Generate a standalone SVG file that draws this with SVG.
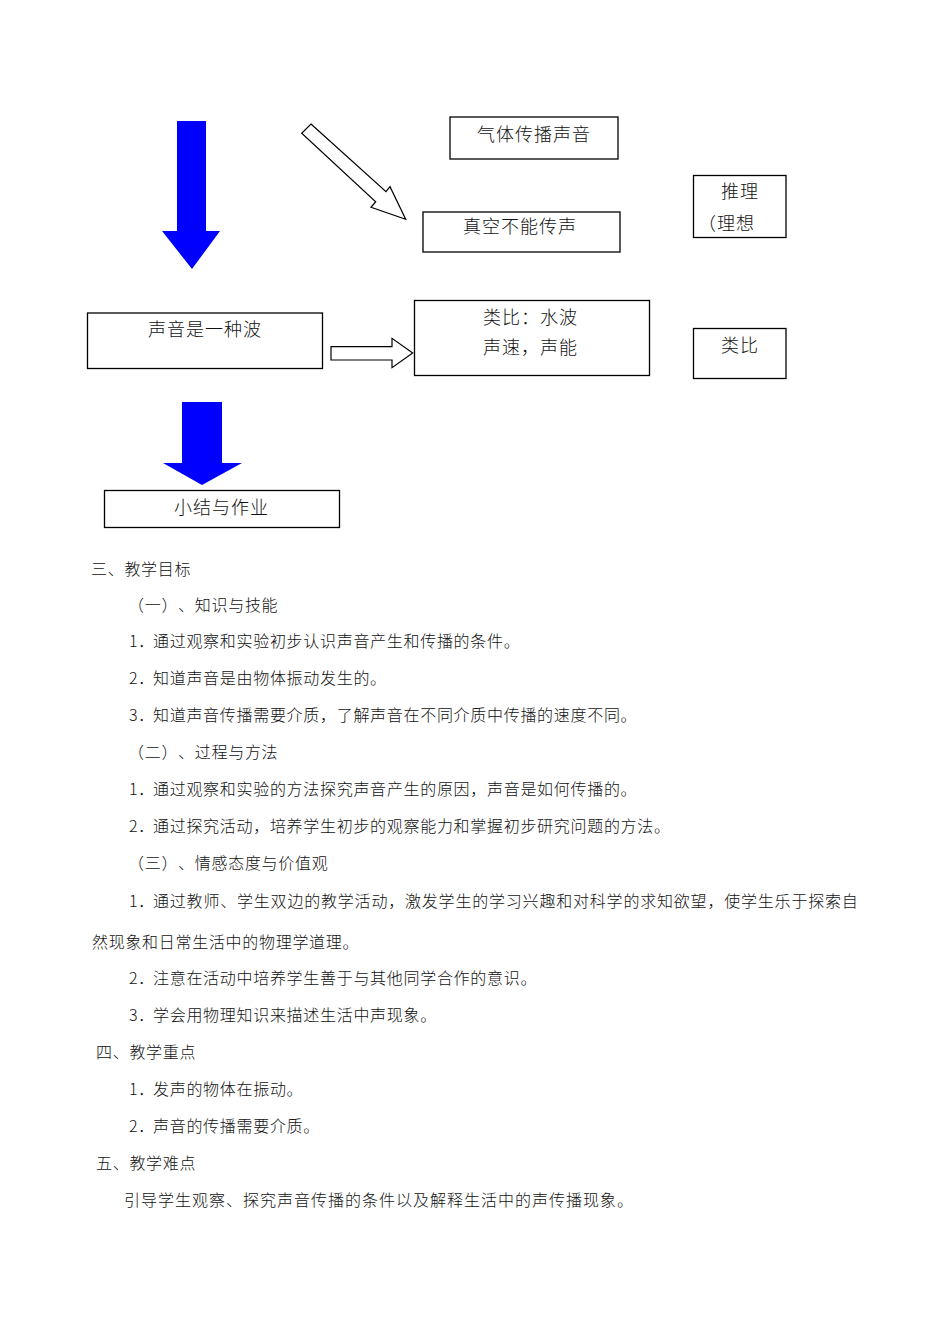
<svg xmlns="http://www.w3.org/2000/svg" width="950" height="1344" viewBox="0 0 950 1344">
<style>
.box{fill:#fff;stroke:#000;stroke-width:1.3}
.bt{font-family:"Noto Sans CJK SC","Noto Sans CJK JP",sans-serif;font-size:18px;letter-spacing:1px;fill:#111;text-spacing-trim:space-all;font-weight:300}
.tx{font-family:"Noto Sans CJK SC","Noto Sans CJK JP",sans-serif;font-size:16px;letter-spacing:0.7px;fill:#111;text-spacing-trim:space-all;font-weight:300}
.blue{fill:#0000ff;stroke:none}
.hollow{fill:#fff;stroke:#000;stroke-width:1.2;stroke-linejoin:miter}
</style>
<rect width="950" height="1344" fill="#fff"/>
<g id="connectors">
<polygon class="blue" points="177,121 206,121 206,231 220,231 192,269 162,231 177,231"/>
<polygon class="hollow" points="311,124 386,191.7 390,186.7 405.7,219.3 371,207.3 375.7,201.7 301.7,133.3"/>
<polygon class="hollow" points="331,346.7 392,346.7 392,338.3 412.7,353 392,367.7 392,360 331,360"/>
<polygon class="blue" points="182,402 222,402 222,463 242,463 202,485 163,463 182,463"/>
</g>
<g id="n-gas"><rect class="box" x="450" y="117" width="168" height="42"/><text class="bt" x="477" y="141">气体传播声音</text></g>
<g id="n-vacuum"><rect class="box" x="423" y="212" width="197" height="40"/><text class="bt" x="463" y="233">真空不能传声</text></g>
<g id="n-reason"><rect class="box" x="693.5" y="175.5" width="92.5" height="62"/><text class="bt" x="721" y="198">推理</text><text class="bt" x="698" y="230">（理想</text></g>
<g id="n-wave"><rect class="box" x="87.5" y="313" width="235" height="55.5"/><text class="bt" x="148" y="336">声音是一种波</text></g>
<g id="n-analogy-water"><rect class="box" x="414.5" y="300.5" width="235" height="75"/><text class="bt" x="483" y="324">类比：水波</text><text class="bt" x="483" y="354">声速，声能</text></g>
<g id="n-analogy"><rect class="box" x="693.5" y="328.5" width="92.5" height="50"/><text class="bt" x="721" y="352">类比</text></g>
<g id="n-summary"><rect class="box" x="104.5" y="490.5" width="235" height="37"/><text class="bt" x="174" y="514">小结与作业</text></g>
<g id="body">
<text class="tx" x="91" y="575">三、教学目标</text>
<text class="tx" x="128" y="611">（一）、知识与技能</text>
<text class="tx"><tspan x="129" y="647">1．</tspan><tspan x="153" y="647">通过观察和实验初步认识声音产生和传播的条件。</tspan></text>
<text class="tx"><tspan x="129" y="684">2．</tspan><tspan x="153" y="684">知道声音是由物体振动发生的。</tspan></text>
<text class="tx"><tspan x="129" y="721">3．</tspan><tspan x="153" y="721">知道声音传播需要介质，了解声音在不同介质中传播的速度不同。</tspan></text>
<text class="tx" x="128" y="758">（二）、过程与方法</text>
<text class="tx"><tspan x="129" y="795">1．</tspan><tspan x="153" y="795">通过观察和实验的方法探究声音产生的原因，声音是如何传播的。</tspan></text>
<text class="tx"><tspan x="129" y="832">2．</tspan><tspan x="153" y="832">通过探究活动，培养学生初步的观察能力和掌握初步研究问题的方法。</tspan></text>
<text class="tx" x="128" y="869">（三）、情感态度与价值观</text>
<text class="tx"><tspan x="129" y="907">1．</tspan><tspan x="153" y="907" style="letter-spacing:0.8px">通过教师、学生双边的教学活动，激发学生的学习兴趣和对科学的求知欲望，使学生乐于探索自</tspan></text>
<text class="tx" x="92" y="948">然现象和日常生活中的物理学道理。</text>
<text class="tx"><tspan x="129" y="984">2．</tspan><tspan x="153" y="984">注意在活动中培养学生善于与其他同学合作的意识。</tspan></text>
<text class="tx"><tspan x="129" y="1021">3．</tspan><tspan x="153" y="1021">学会用物理知识来描述生活中声现象。</tspan></text>
<text class="tx" x="96" y="1058">四、教学重点</text>
<text class="tx"><tspan x="129" y="1095">1．</tspan><tspan x="153" y="1095">发声的物体在振动。</tspan></text>
<text class="tx"><tspan x="129" y="1132">2．</tspan><tspan x="153" y="1132">声音的传播需要介质。</tspan></text>
<text class="tx" x="96" y="1169">五、教学难点</text>
<text class="tx" x="124" y="1206" style="letter-spacing:1px">引导学生观察、探究声音传播的条件以及解释生活中的声传播现象。</text>
</g>
</svg>
